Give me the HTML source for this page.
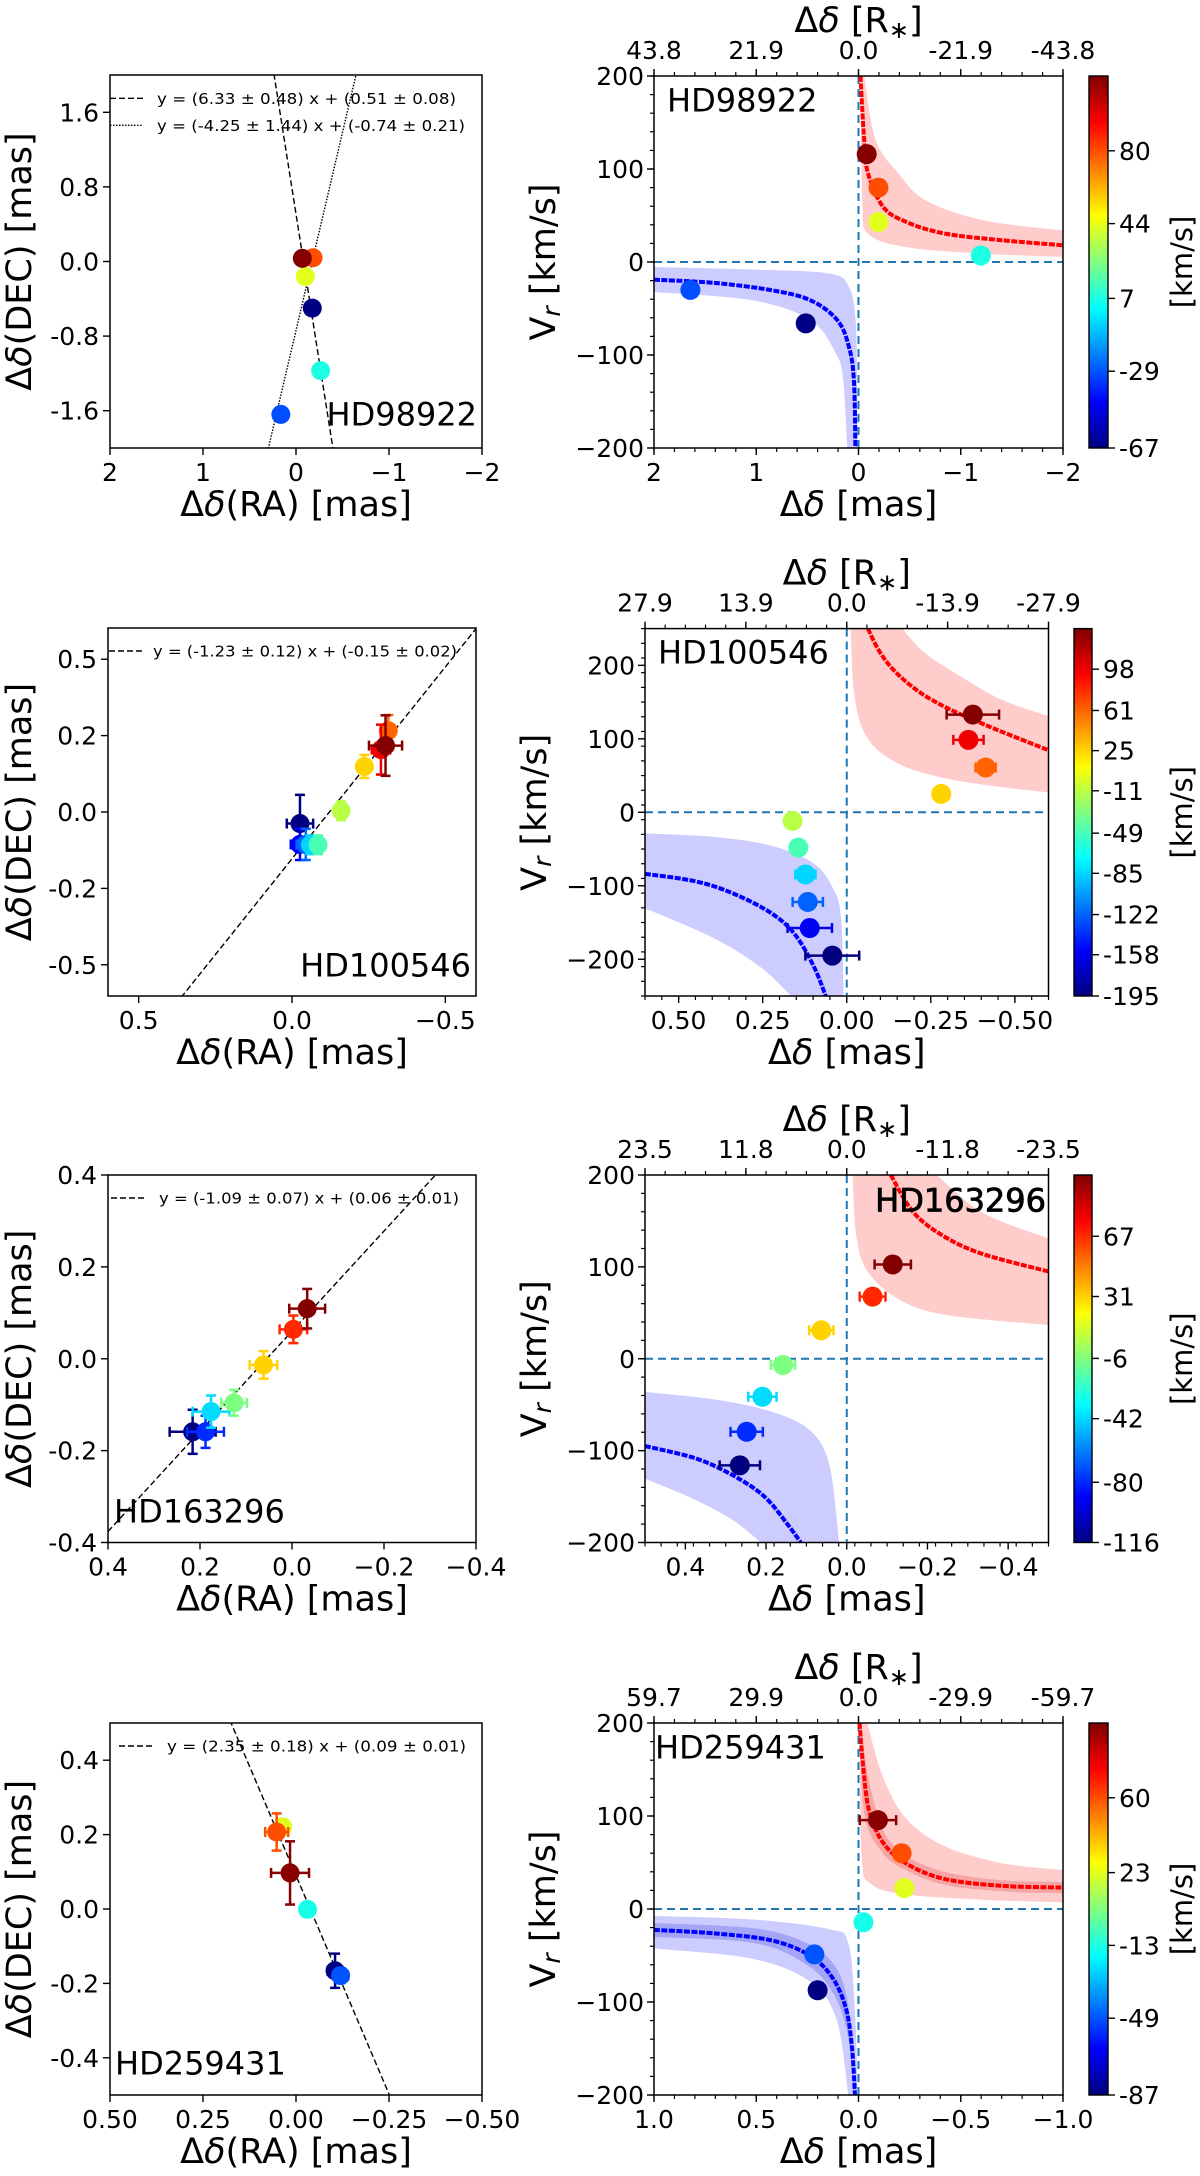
<!DOCTYPE html>
<html><head><meta charset="utf-8">
<style>
html,body{margin:0;padding:0;background:#fff;width:1200px;height:2176px;overflow:hidden;}
svg{display:block;font-family:"DejaVu Sans","Liberation Sans",sans-serif;}
</style></head>
<body>
<svg id="fig" width="1200" height="2176" viewBox="0 0 1200 2176" xmlns="http://www.w3.org/2000/svg" overflow="hidden">
<rect width="1200" height="2176" fill="#fff"/>
<defs id="defs"></defs>
</svg>
<script>
// ---------------- HD98922 ----------------
const hd98922Vel = [-66, -30, 7, 43, 80, 116];
const hd98922Ra = [-0.175, 0.163, -0.265, -0.10, -0.183, -0.068];
const hd98922Dec = [-0.5, -1.64, -1.17, -0.16, 0.04, 0.034];
const hd98922Off = [0.516, 1.644, -1.197, -0.195, -0.195, -0.08];
const hd98922Zero = [0, 0, 0, 0, 0, 0];
const hd98922Red = [[-0.019,200],[-0.056,131],[-0.094,95],[-0.243,59],[-0.468,43],[-0.84,30.6],[-1.4,23.4],[-2,18]];
const hd98922RedUp = [[-0.056,200],[-0.168,131],[-0.393,95],[-0.655,66.5],[-1.215,45],[-2,34]];
const hd98922RedLo = [[-0.019,200],[-0.037,66.5],[-0.094,30.6],[-0.468,16],[-1.215,9],[-2,5.4]];
const hd98922Blue = [[2,-19],[1.4,-22.6],[0.84,-30.5],[0.467,-41.3],[0.205,-62.8],[0.093,-91.5],[0.045,-127],[0.03,-200]];
const hd98922BlueUp = [[2,-5.4],[1.03,-8.2],[0.28,-12.5],[0.093,-27],[0.03,-60],[0.015,-120],[0.008,-200]];
const hd98922BlueLo = [[2,-32.3],[1.03,-41.3],[0.467,-62.8],[0.22,-98.7],[0.15,-127],[0.11,-200]];
const hd98922CbTicks = [-67, -29, 7, 44, 80];

// ---------------- HD100546 ----------------
const hd100546Vel = [-195, -157.5, -122, -84.6, -48, -11.7, 25, 61, 98.6, 133];
const hd100546Ra = [-0.026, -0.026, -0.045, -0.06, -0.085, -0.16, -0.236, -0.314, -0.29, -0.305];
const hd100546Dec = [-0.037, -0.104, -0.104, -0.105, -0.105, 0.004, 0.146, 0.261, 0.2, 0.213];
const hd100546RaErr = [0.043, 0.03, 0.03, 0.02, 0.02, 0.02, 0.02, 0.02, 0.03, 0.054];
const hd100546DecErr = [0.092, 0.05, 0.05, 0.03, 0.03, 0.03, 0.037, 0.05, 0.08, 0.097];
const hd100546Off = [0.043, 0.11, 0.116, 0.123, 0.144, 0.161, -0.281, -0.413, -0.362, -0.375];
const hd100546OffErr = [0.08, 0.066, 0.045, 0.03, 0.01, 0, 0, 0.03, 0.045, 0.078];
const hd100546Red = [[-0.063,250],[-0.097,219],[-0.142,192.4],[-0.21,165.6],[-0.29,143.8],[-0.375,126.3],[-0.46,109.8],[-0.6,84.5]];
const hd100546RedUp = [[-0.165,250],[-0.233,216.6],[-0.347,182.6],[-0.46,153.5],[-0.6,130.7]];
const hd100546RedLo = [[-0.012,250],[-0.023,158],[-0.063,100],[-0.154,66],[-0.29,46.5],[-0.46,34.4],[-0.6,27.2]];
const hd100546Blue = [[0.6,-83.7],[0.449,-94],[0.335,-111],[0.222,-138],[0.153,-167],[0.097,-210.7],[0.0625,-250]];
const hd100546BlueUp = [[0.6,-28.7],[0.392,-33.6],[0.222,-45.7],[0.097,-70],[0.04,-104],[0.017,-142.7],[0.009,-250]];
const hd100546BlueLo = [[0.6,-130.7],[0.392,-172],[0.256,-211],[0.165,-250]];
const hd100546CbTicks = [-195, -158, -122, -85, -49, -11, 25, 61, 98];

// ---------------- HD163296 ----------------
const hd163296Vel = [-116, -79.5, -41.4, -6.8, 31, 67.6, 102.6];
const hd163296Ra = [0.216, 0.188, 0.176, 0.126, 0.062, -0.003, -0.033];
const hd163296Dec = [-0.159, -0.159, -0.115, -0.096, -0.0135, 0.064, 0.109];
const hd163296RaErr = [0.05, 0.04, 0.04, 0.028, 0.03, 0.03, 0.039];
const hd163296DecErr = [0.048, 0.035, 0.035, 0.028, 0.03, 0.03, 0.043];
const hd163296Off = [0.265, 0.248, 0.209, 0.158, 0.063, -0.064, -0.114];
const hd163296OffErr = [0.05, 0.04, 0.035, 0.03, 0.03, 0.032, 0.045];
const hd163296Red = [[-0.109,200],[-0.166,159],[-0.242,133],[-0.337,114],[-0.5,95]];
const hd163296RedUp = [[-0.223,200],[-0.337,159],[-0.5,131]];
const hd163296RedLo = [[-0.0144,200],[-0.024,133],[-0.052,95],[-0.128,65],[-0.242,48],[-0.5,36.7]];
const hd163296Blue = [[0.5,-95],[0.374,-108.5],[0.28,-127.4],[0.204,-150],[0.147,-180],[0.114,-200]];
const hd163296BlueUp = [[0.5,-36],[0.327,-44.4],[0.185,-57.6],[0.09,-78.4],[0.043,-116],[0.019,-200]];
const hd163296BlueLo = [[0.5,-130.4],[0.374,-153.8],[0.28,-176.3],[0.213,-200]];
const hd163296CbTicks = [-116, -80, -42, -6, 31, 67];

// ---------------- HD259431 ----------------
const hd259431Vel = [-87.4, -48.8, -14.3, 22.4, 60, 95.5];
const hd259431Ra = [-0.105, -0.12, -0.031, 0.036, 0.052, 0.016];
const hd259431Dec = [-0.166, -0.179, -0.001, 0.221, 0.207, 0.097];
const hd259431RaErr = [0.02, 0.02, 0.01, 0.01, 0.031, 0.051];
const hd259431DecErr = [0.046, 0.02, 0.02, 0.02, 0.05, 0.085];
const hd259431Off = [0.2, 0.216, -0.024, -0.224, -0.211, -0.095];
const hd259431OffErr = [0, 0, 0, 0, 0, 0.089];
const hd259431Red = [[-0.005,200],[-0.024,150.6],[-0.052,105.7],[-0.118,72],[-0.23,49.4],[-0.417,32.5],[-0.698,25],[-1,23]];
const hd259431RedUp = [[-0.043,200],[-0.118,143],[-0.23,98],[-0.417,68],[-0.698,49.4],[-1,42]];
const hd259431RedLo = [[-0.005,200],[-0.015,57],[-0.062,27],[-0.23,15.7],[-0.604,10],[-1,7]];
const hd259431RedInUp = [[-0.012,200],[-0.05,140],[-0.12,85],[-0.23,58],[-0.42,40],[-0.7,31],[-1,29]];
const hd259431RedInLo = [[-0.004,200],[-0.03,100],[-0.12,60],[-0.23,42],[-0.42,26],[-0.7,19],[-1,17]];
const hd259431Blue = [[1,-22.5],[0.706,-26.2],[0.425,-33.8],[0.238,-50],[0.126,-74.3],[0.06,-108],[0.032,-149],[0.017,-200]];
const hd259431BlueUp = [[1,-7.5],[0.518,-11.3],[0.144,-21.7],[0.05,-36.8],[0.017,-112],[0.004,-200]];
const hd259431BlueLo = [[1,-42.4],[0.518,-53.6],[0.238,-78],[0.107,-119],[0.05,-200]];
const hd259431BlueInUp = [[1,-15],[0.5,-21],[0.24,-38],[0.12,-60],[0.06,-92],[0.035,-140],[0.022,-200]];
const hd259431BlueInLo = [[1,-30],[0.5,-37],[0.24,-62],[0.12,-92],[0.06,-128],[0.03,-170],[0.012,-200]];
const hd259431CbTicks = [-87, -49, -13, 23, 60];

// ---------------- shared tick labels ----------------
const vrTicks = [-200, -100, 0, 100, 200];
const vrTickLabels = ["\u2212200", "\u2212100", "0", "100", "200"];

const svg = document.getElementById('fig');
const defs = document.getElementById('defs');
const NS = 'http://www.w3.org/2000/svg';
function mk(tag, attrs, parent){ const e = document.createElementNS(NS, tag); for (const k in attrs) e.setAttribute(k, attrs[k]); parent.appendChild(e); return e; }
function txt(str, attrs, parent){ const e = mk('text', attrs, parent); e.textContent = str; return e; }
function clamp(v){ return Math.max(0, Math.min(1, v)); }
function jet(t){ t = clamp(t); const r = clamp(1.5 - Math.abs(4*t - 3)), g = clamp(1.5 - Math.abs(4*t - 2)), b = clamp(1.5 - Math.abs(4*t - 1)); return `rgb(${Math.round(r*255)},${Math.round(g*255)},${Math.round(b*255)})`; }
function linScale(d0, d1, r0, r1){ return v => r0 + (v - d0) / (d1 - d0) * (r1 - r0); }
function segs(pts){ let d = ''; for (let i = 0; i < pts.length - 1; i++){ const p0 = pts[i-1] || pts[i], p1 = pts[i], p2 = pts[i+1], p3 = pts[i+2] || pts[i+1];
  const c1x = p1[0] + (p2[0]-p0[0])/6, c1y = p1[1] + (p2[1]-p0[1])/6, c2x = p2[0] - (p3[0]-p1[0])/6, c2y = p2[1] - (p3[1]-p1[1])/6;
  d += ` C${c1x.toFixed(1)},${c1y.toFixed(1)} ${c2x.toFixed(1)},${c2y.toFixed(1)} ${p2[0].toFixed(1)},${p2[1].toFixed(1)}`; } return d; }
let clipN = 0;
function makeClip(x0, y0, x1, y1){ const id = 'clip' + (clipN++); const cp = mk('clipPath', {id}, defs); mk('rect', {x:x0, y:y0, width:x1-x0, height:y1-y0}, cp); return id; }

function drawErr(g, cx, cy, ex, ey, col){
  if (ex > 0.5){ const l = mk('line', {x1:cx-ex, y1:cy, x2:cx+ex, y2:cy, stroke:col, 'stroke-width':2.5}, g);
    
    
    for (const s of [-1, 1]){ const c = mk('line', {x1:cx+s*ex, y1:cy-5, x2:cx+s*ex, y2:cy+5, stroke:col, 'stroke-width':2.5}, g);
      
       } }
  if (ey > 0.5){ const l = mk('line', {x1:cx, y1:cy-ey, x2:cx, y2:cy+ey, stroke:col, 'stroke-width':2.5}, g);
    
    
    for (const s of [-1, 1]){ const c = mk('line', {x1:cx-5, y1:cy+s*ey, x2:cx+5, y2:cy+s*ey, stroke:col, 'stroke-width':2.5}, g);
      
       } }
}

function drawLeft(p){
  const g = mk('g', {}, svg);
  
  
  const sx = linScale(p.xlim[0], p.xlim[1], p.x0, p.x1), sy = linScale(p.ylim[0], p.ylim[1], p.y1, p.y0);
  const clip = makeClip(p.x0, p.y0, p.x1, p.y1);
  const inner = mk('g', {'clip-path':`url(#${clip})`}, g);
  
  
  p.fits.forEach(f => {
    const xa = p.xlim[0], xb = p.xlim[1];
    const l = mk('line', {x1:sx(xa), y1:sy(f.m*xa + f.c), x2:sx(xb), y2:sy(f.m*xb + f.c), stroke:'#000', 'stroke-width':1.4, 'stroke-dasharray':f.dash}, inner);
    
    
  });
  const order = p.vel.map((v,i)=>i).sort((a,b)=>p.vel[a]-p.vel[b]);
  order.forEach(i => {
    const col = jet((p.vel[i]-p.vmin)/(p.vmax-p.vmin));
    const cx = sx(p.ra[i]), cy = sy(p.dec[i]);
    const pg = mk('g', {}, inner);
    
    
    if (p.raErr) drawErr(pg, cx, cy, Math.abs(sx(p.raErr[i]) - sx(0)), Math.abs(sy(p.decErr[i]) - sy(0)), col);
    const c = mk('circle', {cx, cy, r:9.5, fill:col}, pg);
    
    
  });
  const fr = mk('rect', {x:p.x0, y:p.y0, width:p.x1-p.x0, height:p.y1-p.y0, fill:'none', stroke:'#000', 'stroke-width':1.5}, g);
  
  
  p.xt.forEach((v,i) => {
    const x = sx(v);
    const t = mk('line', {x1:x, y1:p.y1, x2:x, y2:p.y1+7, stroke:'#000', 'stroke-width':1.4}, g);
    
    
    const l = txt(p.xtl[i], {x, y:p.y1+33, 'font-size':25, 'text-anchor':'middle'}, g);
    
    
  });
  p.yt.forEach((v,i) => {
    const y = sy(v);
    const t = mk('line', {x1:p.x0-7, y1:y, x2:p.x0, y2:y, stroke:'#000', 'stroke-width':1.4}, g);
    
    
    const l = txt(p.ytl[i], {x:p.x0-11, y:y+9, 'font-size':25, 'text-anchor':'end'}, g);
    
    
  });
  p.legend.forEach((s,i) => {
    const y = p.legY + i*27;
    const l = mk('line', {x1:p.legX, y1:y, x2:p.legX+33, y2:y, stroke:'#000', 'stroke-width':1.4, 'stroke-dasharray':p.fits[i].dash}, g);
    
    
    const t = txt(s, {x:p.legTX, y:y+5.5, 'font-size':15.5, textLength:p.legW[i], lengthAdjust:'spacingAndGlyphs'}, g);
    
    
  });
  const hd = txt(p.hd, {x:p.hdX, y:p.hdY+11.5, 'font-size':32, 'text-anchor':p.hdA}, g);
  
  
  const xl = mk('text', {x:(p.x0+p.x1)/2, y:p.y1+68, 'font-size':35, 'text-anchor':'middle'}, g);
  xl.innerHTML = 'Δ<tspan font-style="italic">δ</tspan>(RA) [mas]';
  
  
  const cy = (p.y0+p.y1)/2;
  const yl = mk('text', {x:20, y:cy, 'font-size':35, 'text-anchor':'middle', 'dominant-baseline':'central', transform:`rotate(-90 20 ${cy})`}, g);
  yl.innerHTML = 'Δ<tspan font-style="italic">δ</tspan>(DEC) [mas]';
  
  
}

function bandPath(up, lo, sx, sy){
  const U = up.map(q => [sx(q[0]), sy(q[1])]), L = lo.slice().reverse().map(q => [sx(q[0]), sy(q[1])]);
  return `M${U[0][0]},${U[0][1]}` + segs(U) + ` L${L[0][0]},${L[0][1]}` + segs(L) + ' Z';
}

function drawRight(p){
  const g = mk('g', {}, svg);
  
  
  const sx = linScale(p.xlim[0], p.xlim[1], p.x0, p.x1), sy = linScale(p.ylim[0], p.ylim[1], p.y1, p.y0);
  const clip = makeClip(p.x0, p.y0, p.x1, p.y1);
  const inner = mk('g', {'clip-path':`url(#${clip})`}, g);
  
  
  const rb = mk('path', {d:bandPath(p.redUp, p.redLo, sx, sy), fill:'#ffcccc'}, inner);
  
  
  const bb = mk('path', {d:bandPath(p.blueUp, p.blueLo, sx, sy), fill:'#ccccff'}, inner);
  
  
  if (p.redInUp){
    const ri = mk('path', {d:bandPath(p.redInUp, p.redInLo, sx, sy), fill:'#f08a8a', 'fill-opacity':0.6}, inner);
    
    
    const bi = mk('path', {d:bandPath(p.blueInUp, p.blueInLo, sx, sy), fill:'#8a8af0', 'fill-opacity':0.6}, inner);
    
    
  }
  const vz = mk('line', {x1:sx(0), y1:p.y0, x2:sx(0), y2:p.y1, stroke:'#1f77b4', 'stroke-width':2, 'stroke-dasharray':'8,5'}, inner);
  
  
  const hz = mk('line', {x1:p.x0, y1:sy(0), x2:p.x1, y2:sy(0), stroke:'#1f77b4', 'stroke-width':2, 'stroke-dasharray':'8,5'}, inner);
  
  
  const RC = p.red.map(q => [sx(q[0]), sy(q[1])]);
  const rc = mk('path', {d:`M${RC[0][0]},${RC[0][1]}` + segs(RC), fill:'none', stroke:'#ff0000', 'stroke-width':4, 'stroke-dasharray':'6,1.5'}, inner);
  
  
  const BC = p.blue.map(q => [sx(q[0]), sy(q[1])]);
  const bc = mk('path', {d:`M${BC[0][0]},${BC[0][1]}` + segs(BC), fill:'none', stroke:'#0000ff', 'stroke-width':4, 'stroke-dasharray':'6,1.5'}, inner);
  
  
  const order = p.vel.map((v,i)=>i).sort((a,b)=>p.vel[a]-p.vel[b]);
  order.forEach(i => {
    const col = jet((p.vel[i]-p.vmin)/(p.vmax-p.vmin));
    const cx = sx(p.off[i]), cy = sy(p.vel[i]);
    const pg = mk('g', {}, inner);
    
    
    drawErr(pg, cx, cy, Math.abs(sx(p.offErr[i]) - sx(0)), 0, col);
    const c = mk('circle', {cx, cy, r:10, fill:col}, pg);
    
    
  });
  const fr = mk('rect', {x:p.x0, y:p.y0, width:p.x1-p.x0, height:p.y1-p.y0, fill:'none', stroke:'#000', 'stroke-width':1.5}, g);
  
  
  const xs = p.xt[1] - p.xt[0];
  for (let k = 0; k <= Math.round((p.xlim[1]-p.xlim[0])/(xs/5)); k++){
    const v = p.xlim[0] + k*xs/5; const x = sx(v);
    if (x < p.x0-0.5 || x > p.x1+0.5) continue;
    const m = mk('line', {x1:x, y1:p.y1, x2:x, y2:p.y1+4, stroke:'#000', 'stroke-width':1.2}, g);
    
    
  }
  p.xt.forEach((v,i) => {
    const x = sx(v);
    const t = mk('line', {x1:x, y1:p.y1, x2:x, y2:p.y1+7, stroke:'#000', 'stroke-width':1.4}, g);
    
    
    const l = txt(p.xtl[i], {x, y:p.y1+33, 'font-size':25, 'text-anchor':'middle'}, g);
    
    
  });
  const ts = p.topT[1] - p.topT[0];
  for (let k = 0; k <= 20; k++){
    const x = sx(p.topT[0] + k*ts/5);
    if (x < p.x0-0.5 || x > p.x1+0.5) continue;
    const m = mk('line', {x1:x, y1:p.y0, x2:x, y2:p.y0-4, stroke:'#000', 'stroke-width':1.2}, g);
    
    
  }
  p.topT.forEach((v,i) => {
    const x = sx(v);
    const t = mk('line', {x1:x, y1:p.y0, x2:x, y2:p.y0-7, stroke:'#000', 'stroke-width':1.4}, g);
    
    
    const l = txt(p.topL[i], {x, y:p.y0-17, 'font-size':25, 'text-anchor':'middle'}, g);
    
    
  });
  const tt = mk('text', {x:(p.x0+p.x1)/2, y:p.y0-44, 'font-size':35, 'text-anchor':'middle'}, g);
  tt.innerHTML = 'Δ<tspan font-style="italic">δ</tspan> [R<tspan font-size="24" dy="6">∗</tspan><tspan dy="-6">]</tspan>';
  
  
  for (let v = p.ylim[0]; v <= p.ylim[1] + 0.01; v += 20){
    const y = sy(v);
    const m = mk('line', {x1:p.x0-4, y1:y, x2:p.x0, y2:y, stroke:'#000', 'stroke-width':1.2}, g);
    
    
  }
  vrTicks.forEach((v,i) => {
    const y = sy(v);
    const t = mk('line', {x1:p.x0-7, y1:y, x2:p.x0, y2:y, stroke:'#000', 'stroke-width':1.4}, g);
    
    
    const l = txt(vrTickLabels[i], {x:p.x0-10, y:y+9, 'font-size':25, 'text-anchor':'end'}, g);
    
    
  });
  const xl = mk('text', {x:(p.x0+p.x1)/2, y:p.y1+68, 'font-size':35, 'text-anchor':'middle'}, g);
  xl.innerHTML = 'Δ<tspan font-style="italic">δ</tspan> [mas]';
  
  
  const cy = (p.y0+p.y1)/2, lx = p.x0 - 110;
  const yl = mk('text', {x:lx, y:cy, 'font-size':35, 'text-anchor':'middle', 'dominant-baseline':'central', transform:`rotate(-90 ${lx} ${cy})`}, g);
  yl.innerHTML = 'V<tspan font-size="25" font-style="italic" dy="7">r</tspan><tspan dy="-7"> [km/s]</tspan>';
  
  
  const hd = txt(p.hd, {x:p.hdX, y:p.hdY+11.5, 'font-size':32, 'text-anchor':p.hdA, stroke:p.hdBold ? '#000' : 'none', 'stroke-width':0.8}, g);
  
  
  const gid = 'jet' + p.id;
  const lg = mk('linearGradient', {id:gid, x1:0, y1:1, x2:0, y2:0}, defs);
  for (let k = 0; k <= 32; k++) mk('stop', {offset:k/32, 'stop-color':jet(k/32)}, lg);
  const cg = mk('g', {}, g);
  
  
  const cr = mk('rect', {x:p.cb0, y:p.y0, width:p.cb1-p.cb0, height:p.y1-p.y0, fill:`url(#${gid})`, stroke:'#000', 'stroke-width':1.4}, cg);
  
  
  const cs = linScale(p.vmin, p.vmax, p.y1, p.y0);
  p.cbT.forEach(v => {
    const y = cs(v);
    const t = mk('line', {x1:p.cb1, y1:y, x2:p.cb1+7, y2:y, stroke:'#000', 'stroke-width':1.4}, cg);
    
    
    const l = txt(String(v), {x:p.cb1+11, y:y+9, 'font-size':25}, cg);
    
    
  });
  const cl = txt('[km/s]', {x:1182, y:cy, 'font-size':29, 'text-anchor':'middle', 'dominant-baseline':'central', transform:`rotate(-90 1182 ${cy})`}, cg);
  
  
}

drawLeft({id:'hd98922', x0:110, x1:482, y0:75, y1:448, xlim:[2,-2], ylim:[-2,2],
  xt:[2,1,0,-1,-2], xtl:["2","1","0","\u22121","\u22122"], yt:[-1.6,-0.8,0,0.8,1.6], ytl:["-1.6","-0.8","0.0","0.8","1.6"],
  vel:hd98922Vel, ra:hd98922Ra, dec:hd98922Dec, vmin:-67, vmax:117,
  fits:[{m:6.33, c:0.51, dash:'6,3'}, {m:-4.25, c:-0.74, dash:'1.5,1.5'}],
  legend:["y = (6.33 ± 0.48) x + (0.51 ± 0.08)", "y = (-4.25 ± 1.44) x + (-0.74 ± 0.21)"], legX:110, legTX:157, legY:98.3, legW:[299, 308],
  hd:'HD98922', hdX:477, hdY:414, hdA:'end'});
drawRight({id:'hd98922', x0:654, x1:1063, y0:76, y1:448, xlim:[2,-2], ylim:[-200,200],
  xt:[2,1,0,-1,-2], xtl:["2","1","0","\u22121","\u22122"], topT:[2,1,0,-1,-2], topL:["43.8","21.9","0.0","-21.9","-43.8"],
  vel:hd98922Vel, off:hd98922Off, offErr:hd98922Zero, vmin:-67, vmax:117,
  red:hd98922Red, redUp:hd98922RedUp, redLo:hd98922RedLo, blue:hd98922Blue, blueUp:hd98922BlueUp, blueLo:hd98922BlueLo,
  cb0:1089, cb1:1108, cbT:hd98922CbTicks, hd:'HD98922', hdX:667, hdY:100, hdA:'start'});

drawLeft({id:'hd100546', x0:108, x1:476, y0:628, y1:996, xlim:[0.6,-0.6], ylim:[-0.59,0.59],
  xt:[0.5,0,-0.5], xtl:["0.5","0.0","\u22120.5"], yt:[-0.49,-0.245,0,0.245,0.49], ytl:["-0.5","-0.2","0.0","0.2","0.5"],
  vel:hd100546Vel, ra:hd100546Ra, dec:hd100546Dec, raErr:hd100546RaErr, decErr:hd100546DecErr, vmin:-195, vmax:134.4,
  fits:[{m:-1.23, c:-0.15, dash:'6,3'}],
  legend:["y = (-1.23 ± 0.12) x + (-0.15 ± 0.02)"], legX:109, legTX:153, legY:651, legW:[304],
  hd:'HD100546', hdX:471, hdY:965, hdA:'end'});
drawRight({id:'hd100546', x0:645, x1:1048.5, y0:628.6, y1:996, xlim:[0.6,-0.6], ylim:[-250,250],
  xt:[0.5,0.25,0,-0.25,-0.5], xtl:["0.50","0.25","0.00","\u22120.25","\u22120.50"], topT:[0.6,0.3,0,-0.3,-0.6], topL:["27.9","13.9","0.0","-13.9","-27.9"],
  vel:hd100546Vel, off:hd100546Off, offErr:hd100546OffErr, vmin:-195, vmax:134.4,
  red:hd100546Red, redUp:hd100546RedUp, redLo:hd100546RedLo, blue:hd100546Blue, blueUp:hd100546BlueUp, blueLo:hd100546BlueLo,
  cb0:1074, cb1:1092, cbT:hd100546CbTicks, hd:'HD100546', hdX:658, hdY:652, hdA:'start'});

drawLeft({id:'hd163296', x0:108, x1:476, y0:1175, y1:1542.5, xlim:[0.4,-0.4], ylim:[-0.4,0.4],
  xt:[0.4,0.2,0,-0.2,-0.4], xtl:["0.4","0.2","0.0","\u22120.2","\u22120.4"], yt:[-0.4,-0.2,0,0.2,0.4], ytl:["-0.4","-0.2","0.0","0.2","0.4"],
  vel:hd163296Vel, ra:hd163296Ra, dec:hd163296Dec, raErr:hd163296RaErr, decErr:hd163296DecErr, vmin:-116, vmax:103.6,
  fits:[{m:-1.09, c:0.06, dash:'6,3'}],
  legend:["y = (-1.09 ± 0.07) x + (0.06 ± 0.01)"], legX:111, legTX:159, legY:1198, legW:[300],
  hd:'HD163296', hdX:114, hdY:1511, hdA:'start'});
drawRight({id:'hd163296', x0:645, x1:1048.5, y0:1175, y1:1542.5, xlim:[0.5,-0.5], ylim:[-200,200],
  xt:[0.4,0.2,0,-0.2,-0.4], xtl:["0.4","0.2","0.0","\u22120.2","\u22120.4"], topT:[0.5,0.25,0,-0.25,-0.5], topL:["23.5","11.8","0.0","-11.8","-23.5"],
  vel:hd163296Vel, off:hd163296Off, offErr:hd163296OffErr, vmin:-116, vmax:103.6,
  red:hd163296Red, redUp:hd163296RedUp, redLo:hd163296RedLo, blue:hd163296Blue, blueUp:hd163296BlueUp, blueLo:hd163296BlueLo,
  cb0:1074, cb1:1092, cbT:hd163296CbTicks, hd:'HD163296', hdX:1046, hdY:1200, hdA:'end', hdBold:true});

drawLeft({id:'hd259431', x0:110, x1:482, y0:1723, y1:2095, xlim:[0.5,-0.5], ylim:[-0.5,0.5],
  xt:[0.5,0.25,0,-0.25,-0.5], xtl:["0.50","0.25","0.00","\u22120.25","\u22120.50"], yt:[-0.4,-0.2,0,0.2,0.4], ytl:["-0.4","-0.2","0.0","0.2","0.4"],
  vel:hd259431Vel, ra:hd259431Ra, dec:hd259431Dec, raErr:hd259431RaErr, decErr:hd259431DecErr, vmin:-87, vmax:97,
  fits:[{m:2.35, c:0.09, dash:'6,3'}],
  legend:["y = (2.35 ± 0.18) x + (0.09 ± 0.01)"], legX:119, legTX:167, legY:1746, legW:[299],
  hd:'HD259431', hdX:115, hdY:2063, hdA:'start'});
drawRight({id:'hd259431', x0:654, x1:1063, y0:1723, y1:2095, xlim:[1,-1], ylim:[-200,200],
  xt:[1,0.5,0,-0.5,-1], xtl:["1.0","0.5","0.0","\u22120.5","\u22121.0"], topT:[1,0.5,0,-0.5,-1], topL:["59.7","29.9","0.0","-29.9","-59.7"],
  vel:hd259431Vel, off:hd259431Off, offErr:hd259431OffErr, vmin:-87, vmax:97,
  red:hd259431Red, redUp:hd259431RedUp, redLo:hd259431RedLo, blue:hd259431Blue, blueUp:hd259431BlueUp, blueLo:hd259431BlueLo,
  redInUp:hd259431RedInUp, redInLo:hd259431RedInLo, blueInUp:hd259431BlueInUp, blueInLo:hd259431BlueInLo,
  cb0:1089, cb1:1108, cbT:hd259431CbTicks, hd:'HD259431', hdX:655, hdY:1747, hdA:'start'});
</script>
</body></html>
